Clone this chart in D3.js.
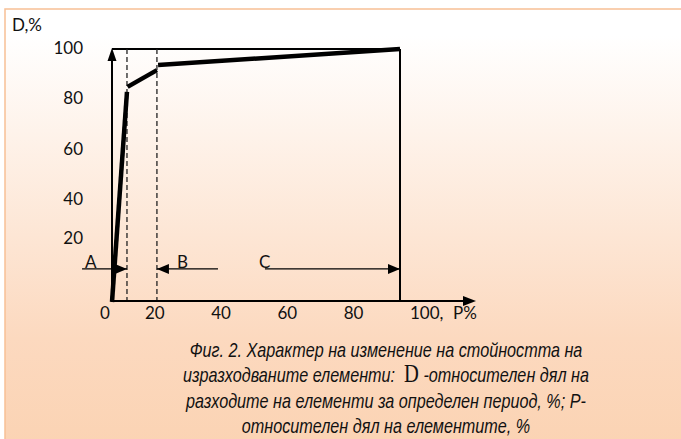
<!DOCTYPE html>
<html>
<head>
<meta charset="utf-8">
<script src="https://cdn.jsdelivr.net/npm/d3@7"></script>
<style>
  body { margin: 0; background: #fff; }
  svg { display: block; }
</style>
</head>
<body>
<div id="chart"></div>
<script>
// share of elements P, % and share of cost D, % (three segments of the curve)
const segA = [[0, -0.8], [5.2, 82.9]];
const segB = [[5.4, 84.9], [15.6, 91.6]];
const segC = [[16.0, 93.6], [100, 100]];
const boundaries = [5.2, 15.6];
const zones = [
    { label: "A", from: -10.4, to: 5.2, head: "end", textAt: -9.4 },
    { label: "B", from: 15.6, to: 36.8, head: "start", textAt: 22.6 },
    { label: "C", from: 53.1, to: 100, head: "end", textAt: 51.0 }
];
const zoneLevel = 12.4;
const xTickValues = [0, 20, 40, 60, 80, 100];
const xTickLabels = ["0", "20", "40", "60", "80", "100,"];
const yTickValues = [20, 40, 60, 80, 100];
const yTickLabels = ["20", "40", "60", "80", "100"];
const captionLines = [
    [{ t: "Фиг. 2. Характер на изменение на стойността на" }],
    [{ t: "изразходваните елементи:\u00a0\u00a0" }, { t: "D", serif: true }, { t: "\u00a0-относителен дял на" }],
    [{ t: "разходите на елементи за определен период, %; P-" }],
    [{ t: "относителен дял на елементите, %" }]
];

const W = 681, H = 439;
const svg = d3.select("#chart").append("svg")
    .attr("width", W)
    .attr("height", H);

const defs = svg.append("defs");
const grad = defs.append("linearGradient")
    .attr("id", "bg")
    .attr("x1", 0).attr("y1", 0).attr("x2", 0).attr("y2", 1);
grad.append("stop").attr("offset", "0.06").attr("stop-color", "#ffffff");
grad.append("stop").attr("offset", "0.75").attr("stop-color", "#fcd9bf");
grad.append("stop").attr("offset", "1").attr("stop-color", "#fbd3b3");

svg.append("rect")
    .attr("x", 5).attr("y", 9)
    .attr("width", W).attr("height", H)
    .attr("fill", "url(#bg)")
    .attr("stroke", "#f7c095")
    .attr("stroke-width", 1.5);

// scales
const x = d3.scaleLinear().domain([0, 100]).range([112, 400]);
const y = d3.scaleLinear().domain([0, 100]).range([300, 49]);
const xLab = d3.scaleLinear().domain([0, 20, 100]).range([100, 145, 410]);
const yLab = d3.scaleLinear().domain([20, 40, 100]).range([238, 199, 48]);

const font = "Lato, 'Open Sans', sans-serif";

// frame: top line and right line
svg.append("line")
    .attr("x1", x(0)).attr("x2", x(100))
    .attr("y1", y(100)).attr("y2", y(100))
    .attr("stroke", "#000").attr("stroke-width", 2);
svg.append("line")
    .attr("x1", x(100)).attr("x2", x(100))
    .attr("y1", y(100)).attr("y2", y(0))
    .attr("stroke", "#000").attr("stroke-width", 2);

// dashed boundaries
svg.selectAll(".bound")
    .data(boundaries)
    .join("line")
    .attr("class", "bound")
    .attr("x1", d => x(d)).attr("x2", d => x(d))
    .attr("y1", y(100)).attr("y2", y(0))
    .attr("stroke", "#222")
    .attr("stroke-width", 1.3)
    .attr("stroke-dasharray", "5,3");

// axes with arrows
svg.append("line")
    .attr("x1", x(0)).attr("x2", x(0))
    .attr("y1", y(0) + 2).attr("y2", y(100) + 8)
    .attr("stroke", "#000").attr("stroke-width", 2);
svg.append("path")
    .attr("d", `M${x(0)},${y(100) - 1} L${x(0) - 4.5},${y(100) + 12} L${x(0) + 4.5},${y(100) + 12} Z`)
    .attr("fill", "#000");
svg.append("line")
    .attr("x1", x(0)).attr("x2", 467)
    .attr("y1", y(0) + 1).attr("y2", y(0) + 1)
    .attr("stroke", "#000").attr("stroke-width", 2);
svg.append("path")
    .attr("d", `M476,${y(0) + 1} L463,${y(0) - 4} L463,${y(0) + 6} Z`)
    .attr("fill", "#000");

// curve
const line = d3.line().x(d => x(d[0])).y(d => y(d[1]));
svg.selectAll(".seg")
    .data([segA, segB, segC])
    .join("path")
    .attr("class", "seg")
    .attr("d", line)
    .attr("fill", "none")
    .attr("stroke", "#000")
    .attr("stroke-width", 4.5);

// zone arrows
function arrowHead(px, py, dir) {
    const s = dir === "end" ? -1 : 1;
    return `M${px},${py} L${px + s * 12},${py - 5} L${px + s * 12},${py + 5} Z`;
}
const zg = svg.append("g");
zones.forEach(z => {
    const ly = y(zoneLevel);
    zg.append("line")
        .attr("x1", x(z.from)).attr("x2", x(z.to))
        .attr("y1", ly).attr("y2", ly)
        .attr("stroke", "#000").attr("stroke-width", 1.3);
    const px = z.head === "end" ? x(z.to) : x(z.from);
    zg.append("path").attr("d", arrowHead(px, ly, z.head)).attr("fill", "#000");
    zg.append("text")
        .attr("x", x(z.textAt)).attr("y", ly - 1)
        .attr("font-family", font).attr("font-size", 17)
        .attr("fill", "#111")
        .text(z.label);
});

// tick labels
svg.selectAll(".xt")
    .data(xTickValues)
    .join("text")
    .attr("class", "xt")
    .attr("x", d => xLab(d))
    .attr("y", 319)
    .attr("font-family", font).attr("font-size", 17)
    .attr("fill", "#111")
    .text((d, i) => xTickLabels[i]);
svg.append("text")
    .attr("x", 453).attr("y", 319)
    .attr("font-family", font).attr("font-size", 17)
    .attr("fill", "#111")
    .text("P%");

svg.selectAll(".yt")
    .data(yTickValues)
    .join("text")
    .attr("class", "yt")
    .attr("x", 83)
    .attr("y", d => yLab(d) + 6)
    .attr("text-anchor", "end")
    .attr("font-family", font).attr("font-size", 17)
    .attr("fill", "#111")
    .text((d, i) => yTickLabels[i]);

svg.append("text")
    .attr("x", 12).attr("y", 31)
    .attr("font-family", font).attr("font-size", 17)
    .attr("fill", "#111")
    .text("D,%");

// caption (condensed italic, like Arial Narrow)
const cap = svg.append("text")
    .attr("transform", "translate(386,0) scale(0.79,1)")
    .attr("font-family", "'Liberation Sans', Arial, sans-serif")
    .attr("font-style", "italic")
    .attr("font-size", 20.5)
    .attr("fill", "#111")
    .attr("text-anchor", "middle");
captionLines.forEach((parts, i) => {
    const row = cap.append("tspan").attr("x", 0).attr("y", 357 + i * 25.5);
    parts.forEach(p => {
        const ts = row.append("tspan").text(p.t);
        if (p.serif) {
            ts.attr("font-family", "'Liberation Serif', serif")
              .attr("font-style", "normal")
              .attr("font-size", 26);
        }
    });
});
</script>
</body>
</html>
